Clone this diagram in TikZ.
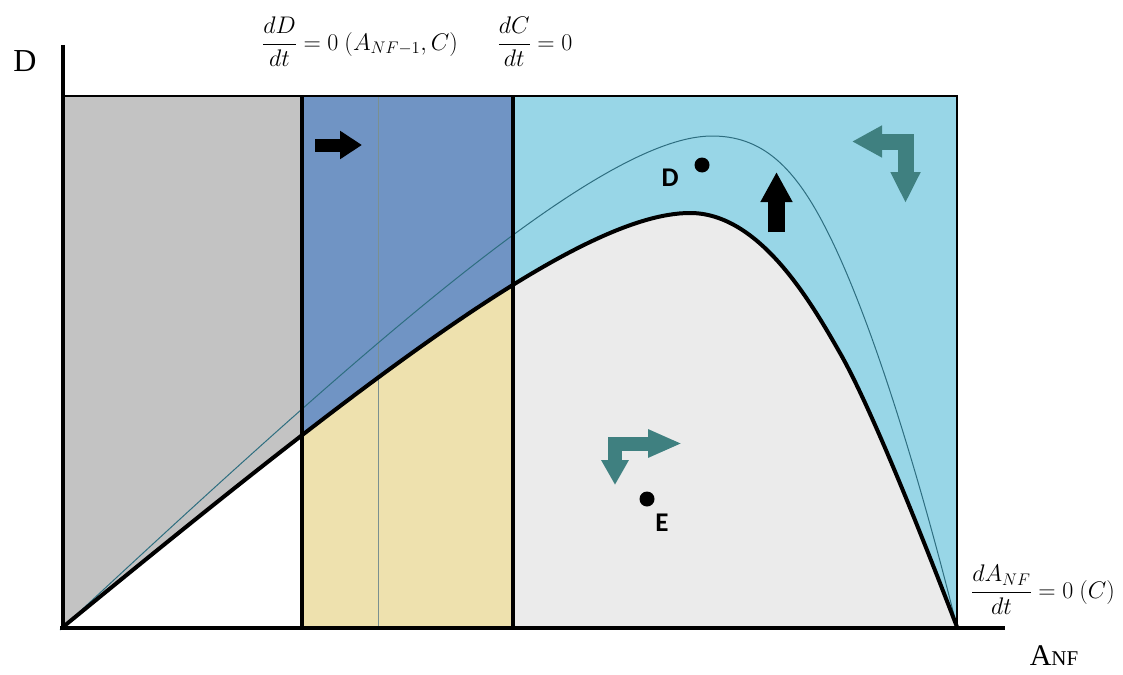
\RequirePackage{fix-cm}
\documentclass[tikz,border=0pt]{standalone}
\usepackage[no-math]{fontspec}
\setmainfont{Liberation Serif}
\newfontfamily\ptfont{Carlito}
\usetikzlibrary{arrows.meta}

\definecolor{zonegray}{HTML}{C3C3C3}
\definecolor{zoneblue}{HTML}{7094C4}
\definecolor{zonesky}{HTML}{98D6E7}
\definecolor{zonetan}{HTML}{EEE1AE}
\definecolor{zonelight}{HTML}{EBEBEB}
\definecolor{turncol}{HTML}{3F8080}
\definecolor{thincol}{HTML}{2E6E80}
\definecolor{guidecol}{HTML}{7A9090}

% isoclines, in pixel coordinates
\def\thickpath{(63,627) .. controls (363,381) and (580,213) .. (690,213)
  .. controls (760,213) and (811.4,303) .. (840,353)
  .. controls (875,414.25) and (935,570) .. (957,627)}
\def\thinpath{(60,630) .. controls (360,351) and (600,136) .. (712,136)
  .. controls (760,136) and (792,164) .. (823,223)
  .. controls (868,308) and (917,467) .. (957,627)}

\begin{document}
\begin{tikzpicture}[
  x=1pt, y=-1pt,
  axis/.style={line width=4.5pt},
  wall/.style={line width=4pt},
  frame/.style={line width=1.5pt},
  guide/.style={line width=1pt, draw=guidecol},
  nullc/.style={line width=4pt, line join=round},
  thinc/.style={line width=1pt, draw=thincol},
  blk/.style={line width=#1, draw=black},
  turn/.style={line width=#1, draw=turncol, line join=miter},
  pt/.style={circle, fill=black, inner sep=0pt, minimum size=15pt},
  ptlbl/.style={font=\ptfont\bfseries\fontsize{27}{27}\selectfont, inner sep=0pt},
  axlbl/.style={inner sep=0pt},
  eqlbl/.style={font=\fontsize{24}{28}\selectfont, inner sep=0pt}
]
\useasboundingbox (0,0) rectangle (1123,674);

% zones above the thick curve
\fill[zonegray]  (63,96)  rectangle (302,627);
\fill[zoneblue]  (302,96) rectangle (513,627);
\fill[zonesky]   (513,96) rectangle (957,627);
% zones below the thick curve
\begin{scope}
  \clip (63,96) rectangle (302,630);
  \fill[white] \thickpath -- cycle;
\end{scope}
\begin{scope}
  \clip (302,96) rectangle (513,630);
  \fill[zonetan] \thickpath -- cycle;
\end{scope}
\begin{scope}
  \clip (513,96) rectangle (957,630);
  \fill[zonelight] \thickpath -- cycle;
\end{scope}

\draw[guide] (378,96) -- (378,628);
\draw[thinc] \thinpath;
\draw[nullc] \thickpath;
\draw[wall] (302,96) -- (302,628);
\draw[wall] (513,96) -- (513,628);
\draw[frame] (63,96) -- (957,96) -- (957,628);
\draw[axis] (63,45) -- (63,630);
\draw[axis] (60,628) -- (1005,628);

% direction arrows
\draw[blk=13pt, -{Triangle[length=22pt, width=27pt]}] (315,145) -- (362,145);
\draw[blk=17pt, -{Triangle[length=30pt, width=30pt]}] (776.5,232) -- (776.5,172);
\draw[turn=14pt, {Triangle[length=25pt, width=26pt]}-{Triangle[length=34pt, width=26pt]}]
  (615,485) -- (615,443.5) -- (682,443.5);
\draw[turn=16pt, {Triangle[length=30pt, width=30pt]}-{Triangle[length=31pt, width=28pt]}]
  (852,141.5) -- (905.5,141.5) -- (905.5,203);

% states
\node[pt] (ptD) at (702,165) {};
\node[ptlbl] (lblD) at (670,178) {D};
\node[pt] (ptE) at (647,499) {};
\node[ptlbl] (lblE) at (662,523) {E};

% axis and isocline labels
\node[axlbl, font=\fontsize{32}{32}\selectfont] (ylbl) at (25,61) {D};
\node[axlbl, font=\fontsize{30}{30}\selectfont] (xlbl) at (1054,656)
  {A{\fontsize{21}{21}\selectfont NF}};
\node[eqlbl] (eqD) at (360,42) {$\displaystyle\frac{dD}{dt}=0\ (A_{NF-1},C)$};
\node[eqlbl] (eqC) at (535,42) {$\displaystyle\frac{dC}{dt}=0$};
\node[eqlbl] (eqA) at (1043,590) {$\displaystyle\frac{dA_{NF}}{dt}=0\ (C)$};
\end{tikzpicture}
\end{document}
